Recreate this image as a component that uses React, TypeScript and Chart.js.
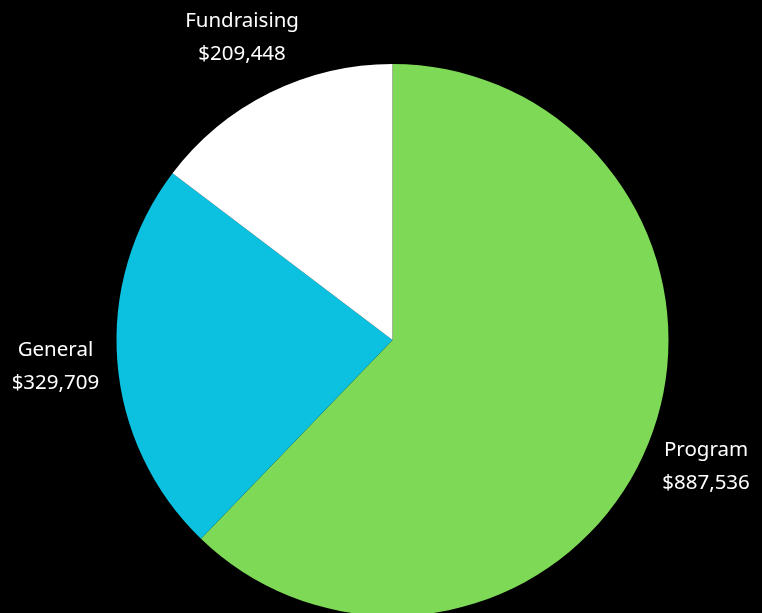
import React, { useEffect, useRef } from "react";
import { Chart, registerables } from "chart.js";

Chart.register(...registerables);

const categories = ["Program", "General", "Fundraising"];
const values = [887536, 329709, 209448];
const valueLabels = ["$887,536", "$329,709", "$209,448"];
const colors = ["#7ED957", "#0CC0DF", "#FFFFFF"];

const labelPlugin = {
  id: "outsideLabels",
  afterDatasetsDraw(chart: any) {
    const ctx = chart.ctx;
    const meta = chart.getDatasetMeta(0);
    ctx.save();
    ctx.fillStyle = "#FFFFFF";
    ctx.font = "20.5px 'Noto Sans'";
    ctx.textAlign = "center";
    ctx.textBaseline = "middle";
    meta.data.forEach((arc: any, i: number) => {
      const p = arc.getProps(["x", "y", "startAngle", "endAngle", "outerRadius"], true);
      const mid = (p.startAngle + p.endAngle) / 2;
      const r = p.outerRadius * 1.225;
      const x = p.x + Math.cos(mid) * r;
      const y = p.y + Math.sin(mid) * r;
      ctx.fillText(categories[i], x, y - 16.5);
      ctx.fillText(valueLabels[i], x, y + 17);
    });
    ctx.restore();
  },
};

export default function App() {
  const ref = useRef<HTMLCanvasElement>(null);
  useEffect(() => {
    document.body.style.margin = "0";
    document.body.style.background = "#000";
    const chart = new Chart(ref.current!, {
      type: "pie",
      data: {
        labels: categories,
        datasets: [
          {
            data: values,
            backgroundColor: colors,
            borderWidth: 0,
          },
        ],
      },
      options: {
        responsive: false,
        animation: false,
        layout: { padding: { top: 64, bottom: 64, left: 116.5, right: 93.5 } },
        plugins: { legend: { display: false }, tooltip: { enabled: false } },
      },
      plugins: [labelPlugin],
    });
    return () => chart.destroy();
  }, []);
  return (
    <div style={{ width: 762, height: 613, overflow: "hidden", background: "#000" }}>
      <canvas ref={ref} width={762} height={680} style={{ width: 762, height: 680, display: "block" }} />
    </div>
  );
}
